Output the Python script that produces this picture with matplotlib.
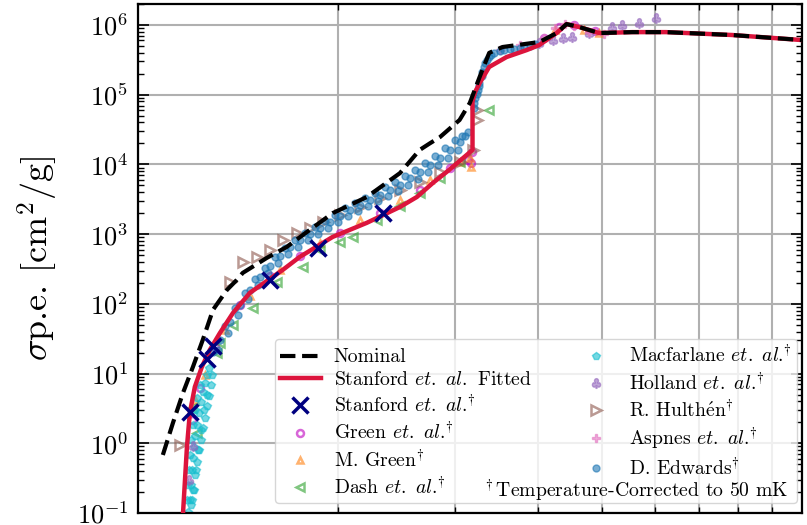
import matplotlib
matplotlib.use("Agg")
import matplotlib.pyplot as plt
from matplotlib.ticker import LogLocator, NullFormatter

plt.rcParams.update({
    "font.family": ["cmr10", "DejaVu Serif"],
    "mathtext.fontset": "cm",
    "axes.formatter.use_mathtext": True,
    "axes.unicode_minus": True,
})

# Photon energy [eV] and photoelectric cross section [cm^2/g]
nominal_E = [1.090, 1.129, 1.169, 1.210, 1.252, 1.297, 1.361, 1.409, 1.438, 1.563,
             1.675, 1.814, 1.964, 2.21, 2.48, 2.655, 2.75, 2.85, 3.05, 3.16, 3.27,
             3.38, 3.54, 4.02, 4.27, 4.42, 4.62, 4.95, 5.55, 6.24, 7.85, 10.0]
nominal_s = [0.68, 1.97, 5.3, 12.5, 30.5, 82, 158, 221, 278, 456,
             656, 1150, 2000, 3400, 7500, 16100, 20000, 24700, 43400, 76000, 180000,
             398000, 483000, 569000, 766000, 1.03e6, 934000, 766000, 790000, 790000, 718000, 608000]

fitted_E = [1.152, 1.169, 1.177, 1.185, 1.197, 1.218, 1.248, 1.283, 1.328, 1.390,
            1.474, 1.652, 1.752, 1.964, 2.21, 2.48, 2.63, 2.78, 2.94, 3.19,
            3.19, 3.22, 3.27, 3.38, 3.59, 3.85, 4.02, 4.27, 4.42, 4.62, 4.95,
            5.55, 6.24, 7.85, 10.0]
fitted_s = [0.04, 0.1, 0.30, 0.89, 2.74, 6.46, 12.5, 21.9, 38, 74,
            144, 307, 471, 912, 1450, 2450, 3410, 5420, 8300, 16100,
            80000, 110000, 147000, 250000, 347000, 437000, 515000, 766000, 1.03e6, 934000, 766000,
            790000, 790000, 718000, 608000]

stanford_E = [1.197, 1.270, 1.297, 1.579, 1.865, 2.335]
stanford_s = [2.83, 16.3, 25, 221, 632, 2000]

green_E = [1.206, 1.240, 1.305, 1.423, 1.579, 1.752, 2.013, 2.312, 2.655, 2.946,
           3.138, 3.168, 3.179, 4.09, 4.31, 4.54, 4.87]
green_s = [2.17, 6.25, 24, 97, 252, 488, 1040, 2010, 4300, 8890,
           11600, 10500, 15100, 650000, 934000, 1.0e6, 819000]

mgreen_E = [1.218, 1.261, 1.351, 1.474, 1.635, 1.878, 2.157, 2.477, 2.749, 3.050,
            3.168, 3.157, 4.24, 4.70, 4.95]
mgreen_s = [4.2, 9.6, 42, 130, 307, 748, 1600, 3090, 5980, 10800,
            9200, 12400, 846000, 846000, 766000]

dash_E = [1.206, 1.227, 1.315, 1.328, 1.390, 1.489, 1.618, 1.770, 1.878, 2.013,
          2.106, 2.288, 2.477, 2.655, 2.846, 3.050, 3.383]
dash_s = [3.23, 1.41, 19.8, 27.6, 50, 87, 207, 339, 594, 774,
          912, 1600, 2540, 3890, 6400, 10800, 60400]

macfarlane_E = [1.189, 1.197, 1.201, 1.206, 1.210, 1.214, 1.218, 1.227, 1.235, 1.244,
                1.252, 1.261, 1.270, 1.279, 1.222, 1.231, 1.244, 1.257, 1.270, 1.206, 1.214,
                1.201, 1.210, 1.218, 1.227, 1.235, 1.244, 1.252, 1.261, 1.270, 1.279, 1.288, 1.292,
                1.185, 1.189, 1.193, 1.197, 1.201, 1.210, 1.218, 1.227, 1.240]
macfarlane_s = [0.104, 0.155, 0.254, 0.417, 0.62, 0.89, 1.28, 1.84, 2.74, 3.93,
                5.47, 7.37, 9.6, 12.1, 0.417, 0.81, 1.56, 3.02, 4.96, 0.155, 0.215,
                0.131, 0.215, 0.353, 0.543, 0.81, 1.12, 1.67, 2.32, 3.45, 4.8, 6.9, 9.6,
                0.155, 0.254, 0.417, 0.684, 1.12, 1.84, 3.02, 4.49, 6.9]

holland_E = [1.193, 1.210, 4.02, 4.21, 4.36, 4.51, 4.78, 5.18, 5.36, 5.69, 6.03]
holland_s = [0.3, 0.9, 551000, 608000, 650000, 672000, 766000, 934000, 1.0e6, 1.07e6, 1.26e6]

hulthen_E = [1.157, 1.375, 1.438, 1.510, 1.579, 1.652, 1.734, 1.814, 1.897, 2.013,
             2.157, 2.312, 2.477, 2.655, 2.846, 3.050, 3.190, 3.235, 3.235]
hulthen_s = [0.95, 207, 400, 471, 594, 826, 1040, 1227, 1496, 1885,
             2455, 3300, 4300, 5610, 7800, 10800, 16100, 43400, 60300]

aspnes_E = [3.503, 3.757, 4.09, 4.24, 4.39, 4.54, 4.78, 5.04]
aspnes_s = [437000, 515000, 650000, 904000, 1.03e6, 966000, 792000, 741000]

edwards_E = [1.297, 1.328, 1.375, 1.423, 1.474, 1.526, 1.579, 1.635, 1.692, 1.752,
             1.814, 1.878, 1.944, 2.013, 2.084, 2.157, 2.233, 2.312, 2.393, 2.477,
             2.565, 2.655, 2.749, 2.846, 2.946, 3.050, 3.103, 3.138, 3.201, 3.223,
             3.246, 3.268, 3.302, 3.336, 3.383, 3.442, 3.503, 3.628, 3.757, 3.890, 3.957,
             1.351, 1.399, 1.448, 1.499, 1.552, 1.607, 1.663, 1.722, 1.782, 1.845,
             1.910, 1.977, 2.047, 2.119, 2.194, 2.271, 2.351, 2.434, 2.520, 2.609,
             2.702, 2.797, 2.895, 2.997, 3.071,
             1.319, 1.366, 1.414, 1.463, 1.515, 1.569, 1.624, 1.681, 1.740, 1.801,
             1.865, 1.931, 2.000, 2.070, 2.142, 2.218, 2.296, 2.376, 2.460, 2.547,
             2.636, 2.730, 2.826, 2.926, 3.029,
             3.212, 3.235, 3.257, 3.291, 3.325, 3.360, 3.407, 3.564, 3.689, 3.819]
edwards_s = [20.5, 30.5, 55, 97, 159, 244, 351, 488, 656, 826,
             1007, 1227, 1496, 1824, 2222, 2624, 3090, 3648, 4305, 5078,
             6397, 7800, 9820, 12360, 16100, 21000, 25600, 29200, 64400, 89700,
             116800, 147000, 211000, 284000, 347000, 396000, 423000, 452000, 467000, 499000, 533000,
             48.3, 87.5, 144, 228, 328, 471, 634, 826, 1040, 1268,
             1545, 1885, 2376, 2800, 3304, 3898, 4754, 5608, 6838, 8337,
             10500, 13200, 17200, 22400, 25600,
             21.9, 38.4, 69.5, 118, 187, 278, 387, 520, 656, 826,
             1007, 1227, 1496, 1824, 2153, 2540, 2995, 3533, 4167, 5078,
             6194, 7800, 9820, 12360, 16100,
             76000, 102000, 133000, 185000, 250000, 314000, 371000, 438000, 452000, 483000]

fig = plt.figure(figsize=(8.07, 5.25), dpi=100)
ax = fig.add_axes([138 / 807, 12 / 525, 664 / 807, 509 / 525])

a = 0.6
etal = r"$\mathit{et.\ al.}$"
dag_it = r"$\hspace{-0.22}^{\dagger}$"   # pulls the dagger in after the italic "al."
dag = r"$^{\dagger}$"
lab_green = "Green " + etal + dag_it
lab_mgreen = "M. Green" + dag
lab_dash = "Dash " + etal + dag_it
lab_mac = "Macfarlane " + etal + dag_it
lab_hol = "Holland " + etal + dag_it
lab_hul = r"R. Hulth$\acute{\mathrm{e}}$n" + dag
lab_asp = "Aspnes " + etal + dag_it
lab_edw = "D. Edwards" + dag
lab_fit = "Stanford " + etal + " Fitted"
lab_nom = "Nominal"
lab_st = "Stanford " + etal + dag_it

h_green, = ax.plot(green_E, green_s, marker="o", ls="none", mfc="none", mec="m", mew=1.8, ms=5,
                   alpha=a, zorder=2)
h_mgreen, = ax.plot(mgreen_E, mgreen_s, marker="^", ls="none", mfc="none", mec="tab:orange", mew=1.8,
                    ms=5, alpha=a, zorder=2)
h_dash, = ax.plot(dash_E, dash_s, marker="<", ls="none", mfc="none", mec="tab:green", mew=1.8, ms=6,
                  alpha=a, zorder=2)
h_mac, = ax.plot(macfarlane_E, macfarlane_s, marker="p", ls="none", color="tab:cyan", ms=6,
                 alpha=a, zorder=2)
h_hol, = ax.plot(holland_E, holland_s, marker=r"$\clubsuit$", ls="none", color="tab:purple", ms=7,
                 alpha=a, zorder=2)
h_hul, = ax.plot(hulthen_E, hulthen_s, marker=">", ls="none", mfc="none", mec="tab:brown", mew=1.8,
                 ms=7, alpha=a, zorder=2)
h_asp, = ax.plot(aspnes_E, aspnes_s, marker="P", ls="none", color="tab:pink", ms=6, alpha=a, zorder=2)
h_edw, = ax.plot(edwards_E, edwards_s, marker="o", ls="none", color="tab:blue", ms=5, alpha=a,
                 zorder=2)

h_fit, = ax.plot(fitted_E, fitted_s, color="#DC143C", lw=3.2, zorder=3)
h_nom, = ax.plot(nominal_E, nominal_s, color="black", lw=3, ls="--", zorder=4)
h_st, = ax.plot(stanford_E, stanford_s, marker="x", ls="none", color="navy", ms=12, mew=2.5, zorder=5)

ax.set_xscale("log")
ax.set_yscale("log")
ax.set_xlim(1, 10)
ax.set_ylim(0.1, 2e6)

ax.xaxis.set_minor_locator(LogLocator(base=10, subs=range(2, 10)))
ax.xaxis.set_minor_formatter(NullFormatter())
ax.yaxis.set_minor_locator(LogLocator(base=10, subs=range(2, 10), numticks=20))
ax.yaxis.set_major_locator(LogLocator(base=10, numticks=20))

ax.xaxis.grid(True, which="both", color="#b0b0b0", lw=1.5)
ax.yaxis.grid(True, which="major", color="#b0b0b0", lw=1.5)
ax.set_axisbelow(True)

ax.tick_params(which="both", direction="in", top=True, right=True,
               labelbottom=False, labelsize=19, pad=7)
ax.tick_params(which="major", length=8, width=1.2)
ax.tick_params(which="minor", length=4, width=1.0)
for s in ax.spines.values():
    s.set_linewidth(1.6)

ax.set_ylabel(r"$\sigma$p.e. [cm$^2$/g]", fontsize=26, labelpad=12)

leg = ax.legend([h_nom, h_fit, h_st, h_green, h_mgreen, h_dash,
                 h_mac, h_hol, h_hul, h_asp, h_edw],
                [lab_nom, lab_fit, lab_st, lab_green, lab_mgreen, lab_dash,
                 lab_mac, lab_hol, lab_hul, lab_asp, lab_edw],
                ncol=2, fontsize=14.2,
                loc="lower right", bbox_to_anchor=(0.993, 0.02), borderaxespad=0,
                borderpad=0.25, labelspacing=0.24, columnspacing=2.2, handlelength=2.1,
                handletextpad=0.65, framealpha=0.8, edgecolor="0.8", fancybox=True)
leg.set_zorder(6)

ax.text(0.980, 0.044, r"$^\dagger$Temperature-Corrected to 50 mK", transform=ax.transAxes,
        ha="right", va="center", fontsize=14.2, zorder=7)

fig.savefig("out.png", dpi=100)
